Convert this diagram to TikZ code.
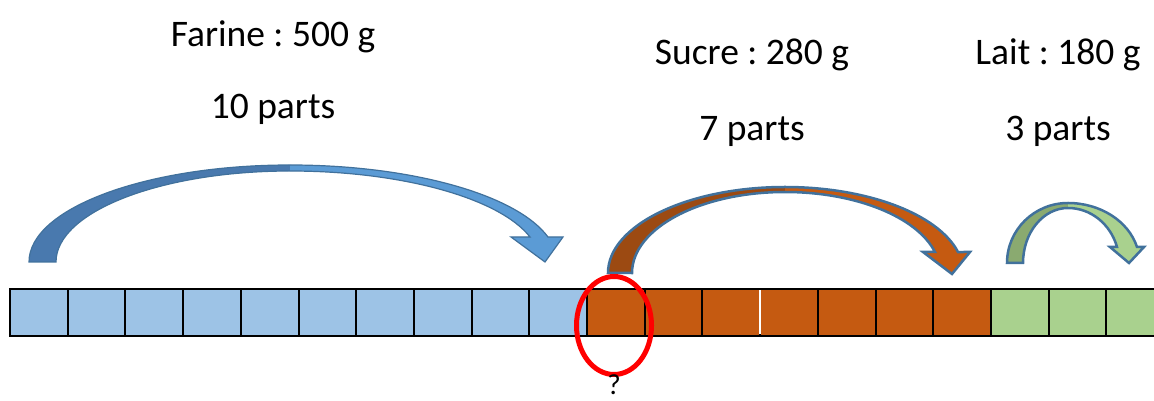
\documentclass[tikz,border=0pt]{standalone}
\usepackage{fontspec}
\setmainfont{Carlito}
\usetikzlibrary{shapes.geometric}
\frenchspacing
\definecolor{cellblue}{HTML}{9DC3E6}
\definecolor{cellorange}{HTML}{C55A11}
\definecolor{cellgreen}{HTML}{A9D18E}
\definecolor{bluedark}{HTML}{4979AE}
\definecolor{bluelight}{HTML}{5B9BD5}
\definecolor{orangedark}{HTML}{9C4A12}
\definecolor{greendark}{HTML}{8AAA70}
\definecolor{edgeblue}{HTML}{41719C}
\tikzset{
  cell/.style={draw=black, line width=2pt, minimum width=57.7pt, minimum height=47pt,
               inner sep=0pt, outer sep=0pt, anchor=south west},
  label/.style={font=\fontsize{37.5}{44}\selectfont, anchor=base, inner sep=0pt, text=black},
  ring/.style={ellipse, draw=red, line width=5pt, minimum width=75pt, minimum height=98pt, inner sep=0pt}
}
\begin{document}
\begin{tikzpicture}[x=1pt,y=1pt]
\useasboundingbox (0,0) rectangle (1154,401);
\clip (0,0) rectangle (1154,401);

% bar of 20 parts
\foreach \i in {1,...,10}
  \node[cell, fill=cellblue] (c\i) at ({10+(\i-1)*57.7},65) {};
\foreach \i in {11,...,17}
  \node[cell, fill=cellorange] (c\i) at ({10+(\i-1)*57.7},65) {};
\foreach \i in {18,...,20}
  \node[cell, fill=cellgreen] (c\i) at ({10+(\i-1)*57.7},65) {};
\draw[white, line width=1.5pt] ([yshift=1.5pt]c14.south west) -- ([yshift=-1.5pt]c14.north west);

% blue curved arrow
\fill[bluedark] (29,139) arc[start angle=180, end angle=90, x radius=261pt, y radius=97pt]
  -- (290,230) arc[start angle=90, end angle=180, x radius=234pt, y radius=91pt] -- cycle;
\fill[bluelight] (290,236) arc[start angle=90, end angle=14.94, x radius=267pt, y radius=97pt]
  -- (563,164) -- (545,139) -- (511,164) -- (530,164)
  arc[start angle=15.95, end angle=90, x radius=249.6pt, y radius=91pt] -- cycle;
\draw[edgeblue, line width=1.2pt, line join=miter] (29,139)
  arc[start angle=180, end angle=90, x radius=261pt, y radius=97pt]
  arc[start angle=90, end angle=14.94, x radius=267pt, y radius=97pt]
  -- (563,164) -- (545,139) -- (511,164) -- (530,164)
  arc[start angle=15.95, end angle=90, x radius=249.6pt, y radius=91pt]
  arc[start angle=90, end angle=180, x radius=234pt, y radius=91pt] -- cycle;

% orange curved arrow
\fill[orangedark] (608,128) arc[start angle=180, end angle=90, x radius=177pt, y radius=86pt]
  -- (785,209) arc[start angle=90, end angle=180, x radius=153pt, y radius=81pt] -- cycle;
\fill[cellorange] (785,214) arc[start angle=90, end angle=14.13, x radius=178.4pt, y radius=86pt]
  -- (970,149) -- (952,127) -- (923,149) -- (935,149)
  arc[start angle=15.03, end angle=90, x radius=155.3pt, y radius=81pt] -- cycle;
\draw[edgeblue, line width=2.5pt, line join=miter] (608,128)
  arc[start angle=180, end angle=90, x radius=177pt, y radius=86pt]
  arc[start angle=90, end angle=14.13, x radius=178.4pt, y radius=86pt]
  -- (970,149) -- (952,127) -- (923,149) -- (935,149)
  arc[start angle=15.03, end angle=90, x radius=155.3pt, y radius=81pt]
  arc[start angle=90, end angle=180, x radius=153pt, y radius=81pt] -- cycle;

% green curved arrow
\fill[greendark] (1007,138) arc[start angle=180, end angle=90, x radius=61pt, y radius=60pt]
  -- (1068,193) arc[start angle=90, end angle=180, x radius=45pt, y radius=55pt] -- cycle;
\fill[cellgreen] (1068,198) arc[start angle=90, end angle=15.47, x radius=71.6pt, y radius=60pt]
  -- (1144,154) -- (1129,138) -- (1110,154) -- (1117,154)
  arc[start angle=16.91, end angle=90, x radius=51.2pt, y radius=55pt] -- cycle;
\draw[edgeblue, line width=2.5pt, line join=miter] (1007,138)
  arc[start angle=180, end angle=90, x radius=61pt, y radius=60pt]
  arc[start angle=90, end angle=15.47, x radius=71.6pt, y radius=60pt]
  -- (1144,154) -- (1129,138) -- (1110,154) -- (1117,154)
  arc[start angle=16.91, end angle=90, x radius=51.2pt, y radius=55pt]
  arc[start angle=90, end angle=180, x radius=45pt, y radius=55pt] -- cycle;

% red ring around the first orange part
\node[ring] (ringq) at (614,75.5) {};

% labels
\node[label, font=\fontsize{29}{35}\selectfont] (qmark) at (614,6.5) {?};
\node[label] (farine) at (273,354) {Farine : 500 g};
\node[label] (fparts) at (273,282) {10 parts};
\node[label] (sucre) at (752,336) {Sucre : 280 g};
\node[label] (sparts) at (752,260) {7 parts};
\node[label] (lait) at (1058,336) {Lait : 180 g};
\node[label] (lparts) at (1058,260) {3 parts};
\end{tikzpicture}
\end{document}
